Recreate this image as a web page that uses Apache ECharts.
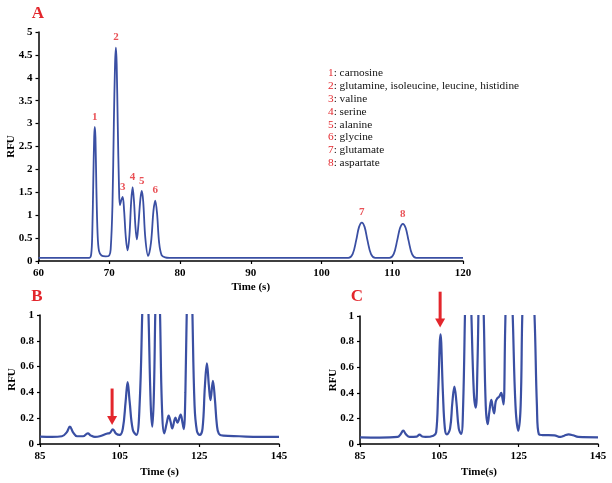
<!DOCTYPE html>
<html>
<head>
<meta charset="utf-8">
<script src="https://cdn.jsdelivr.net/npm/echarts@6/dist/echarts.min.js"></script>
<style>
html,body{margin:0;padding:0;background:#fff;}
#chart{width:612px;height:483px;}
</style>
</head>
<body>
<div id="chart"></div>
<script>
// ---------- DATA ----------
// Panel A: electropherogram, time (s) vs RFU
var timeA = [60,67.2,67.45,67.6,67.75,67.87,67.95,68.05,68.18,68.35,68.55,68.9,69.5,70.0,70.2,70.45,70.65,70.82,70.94,71.05,71.2,71.38,71.5,71.7,71.9,72.1,72.35,72.6,72.85,73.1,73.3,73.5,73.7,73.9,74.1,74.4,74.6,74.8,75.1,75.5,75.9,76.25,76.5,76.75,77.05,77.4,77.9,78.5,103.8,104.4,104.9,105.3,105.7,106.1,106.5,107.0,107.6,109.6,110.2,110.7,111.1,111.5,111.9,112.3,112.8,113.4,120];
var rfuA  = [0.07,0.07,0.15,0.6,1.8,2.7,2.93,2.7,1.6,0.6,0.22,0.12,0.1,0.12,0.25,1.2,3.0,4.3,4.66,4.3,3.0,1.6,1.22,1.33,1.40,1.1,0.5,0.23,0.55,1.3,1.61,1.3,0.75,0.47,0.75,1.35,1.53,1.3,0.5,0.11,0.4,1.1,1.32,1.05,0.4,0.13,0.08,0.07,0.07,0.15,0.45,0.74,0.84,0.74,0.45,0.15,0.07,0.07,0.15,0.45,0.72,0.81,0.72,0.45,0.15,0.07,0.07];
var peakTimesA = [67.95,70.94,71.9,73.3,74.6,76.5,105.7,111.5];
var peakNumbersA = ['1','2','3','4','5','6','7','8'];
var legendNames = ['carnosine','glutamine, isoleucine, leucine, histidine','valine','serine','alanine','glycine','glutamate','aspartate'];

// Panel B
var timeB = [85,88,90.5,91.7,92.5,93.3,94.3,95.8,97,97.8,98.8,100,101.7,102.5,103.3,104.1,105,105.8,106.5,107,107.5,108.3,109.2,110,110.7,111.4,112.2,112.8,113.2,113.6,114.0,114.5,115.1,115.6,116.2,116.8,117.3,117.8,118.2,119,119.5,120.3,120.8,121.1,121.5,122,122.6,123.2,123.8,124.4,125.1,125.8,126.4,126.9,127.4,127.8,128.4,128.9,129.4,129.9,131,135,140,145];
var rfuB  = [0.057,0.055,0.06,0.09,0.134,0.09,0.06,0.06,0.083,0.065,0.055,0.06,0.08,0.085,0.114,0.08,0.07,0.12,0.33,0.48,0.33,0.11,0.07,0.3,1.05,1.8,1.05,0.3,0.134,0.4,1.1,1.6,1.05,0.3,0.083,0.16,0.22,0.17,0.12,0.204,0.165,0.227,0.16,0.116,0.4,1.3,1.8,1.1,0.3,0.1,0.07,0.12,0.45,0.625,0.45,0.34,0.49,0.35,0.15,0.08,0.065,0.06,0.055,0.055];

// Panel C
var timeC = [85,90,94.5,95.2,95.9,96.6,97.5,99.3,100,100.7,101.5,103.5,104.2,104.7,105.3,105.9,106.4,106.9,107.7,108.3,108.8,109.3,109.9,110.5,111.0,111.6,112.3,113.0,113.7,114.2,114.6,115.1,115.6,116.2,116.7,117.2,117.6,118.1,118.5,118.8,119.2,119.6,120.1,120.6,120.9,121.2,121.6,122.1,122.8,123.5,124.2,124.9,125.5,126.0,127.0,128.2,129.0,129.6,130.1,131,134,135.5,136.5,137.6,138.7,140,145];
var rfuC  = [0.052,0.05,0.055,0.075,0.104,0.075,0.055,0.058,0.073,0.058,0.055,0.065,0.09,0.4,0.857,0.4,0.12,0.075,0.12,0.33,0.448,0.33,0.12,0.078,0.3,1.2,1.8,1.1,0.4,0.284,0.6,1.4,1.7,1.0,0.3,0.156,0.25,0.344,0.28,0.24,0.33,0.357,0.37,0.40,0.36,0.31,0.9,1.5,1.6,1.0,0.3,0.104,0.3,1.1,1.7,1.5,1.0,0.3,0.075,0.07,0.068,0.055,0.065,0.075,0.068,0.055,0.052];

// Arrows: [time, top RFU, tip RFU]
var arrowB = [103.1, 0.43, 0.147];
var arrowC = [105.2, 1.19, 0.91];

// Axis ticks
var axisA = {xMin:60, xMax:120, xStep:10, yMin:0, yMax:5, yStep:0.5};
var axisBC = {xMin:85, xMax:145, xStep:20, yMin:0, yMax:1, yStep:0.2};

// ---------- CHART ----------
var SERIF = '"Liberation Serif","Times New Roman",serif';
var LINE = '#3a4fa3';
var RED = '#e3262c';

function pairs(t, v) {
  return t.map(function (x, i) { return [x, v[i]]; });
}
var peakPointsA = peakTimesA.map(function (t, i) {
  return {value: [t, rfuA[timeA.indexOf(t)]], label: {formatter: peakNumbersA[i]}};
});

function xAx(grid, a, name, gap) {
  return {
    type: 'value', gridIndex: grid, min: a.xMin, max: a.xMax, interval: a.xStep,
    name: name, nameLocation: 'middle', nameGap: gap,
    nameTextStyle: {fontFamily: SERIF, fontWeight: 'bold', fontSize: 11, color: '#000'},
    axisLine: {lineStyle: {color: '#000', width: 1.5}},
    axisTick: {show: true, inside: false, length: 3, lineStyle: {color: '#000', width: 1.2}},
    axisLabel: {fontFamily: SERIF, fontWeight: 'bold', fontSize: 11, color: '#000', margin: 7},
    splitLine: {show: false}
  };
}
function yAx(grid, a, gap) {
  return {
    type: 'value', gridIndex: grid, min: a.yMin, max: a.yMax, interval: a.yStep,
    name: 'RFU', nameLocation: 'middle', nameGap: gap, nameRotate: 90, nameMoveOverlap: false,
    nameTextStyle: {fontFamily: SERIF, fontWeight: 'bold', fontSize: 11, color: '#000'},
    axisLine: {show: true, lineStyle: {color: '#000', width: 1.5}},
    axisTick: {show: true, inside: false, length: 3, lineStyle: {color: '#000', width: 1.2}},
    axisLabel: {fontFamily: SERIF, fontWeight: 'bold', fontSize: 11, color: '#000', margin: 6},
    splitLine: {show: false}
  };
}

var chart = echarts.init(document.getElementById('chart'), null, {renderer: 'canvas'});
chart.setOption({
  animation: false,
  backgroundColor: '#fff',
  grid: [
    {left: 38.5, right: 149, top: 32, bottom: 222, containLabel: false, outerBoundsMode: 'none'},
    {left: 40, right: 333, top: 315, bottom: 39, containLabel: false, outerBoundsMode: 'none'},
    {left: 360, right: 14, top: 316, bottom: 39, containLabel: false, outerBoundsMode: 'none'}
  ],
  xAxis: [xAx(0, axisA, 'Time (s)', 21), xAx(1, axisBC, 'Time (s)', 23), xAx(2, axisBC, 'Time(s)', 23)],
  yAxis: [yAx(0, axisA, 22), yAx(1, axisBC, 22), yAx(2, axisBC, 21.5)],
  series: [
    {type: 'line', xAxisIndex: 0, yAxisIndex: 0, data: pairs(timeA, rfuA),
     smooth: 0.35, symbol: 'none', lineStyle: {color: LINE, width: 1.8}},
    {type: 'scatter', xAxisIndex: 0, yAxisIndex: 0, data: peakPointsA, symbolSize: 1, silent: true,
     itemStyle: {color: 'rgba(0,0,0,0)'},
     label: {show: true, position: 'top', distance: 4, color: RED, fontFamily: SERIF, fontWeight: 'bold', fontSize: 11}},
    {type: 'line', xAxisIndex: 1, yAxisIndex: 1, data: pairs(timeB, rfuB), clip: true,
     smooth: 0.4, symbol: 'none', lineStyle: {color: LINE, width: 2.2}},
    {type: 'line', xAxisIndex: 2, yAxisIndex: 2, data: pairs(timeC, rfuC), clip: true,
     smooth: 0.4, symbol: 'none', lineStyle: {color: LINE, width: 2.2}}
  ]
});

// graphic overlays: panel letters, legend, arrows
var g = [];
var letters = [['A', 38, 14], ['B', 37, 297], ['C', 357, 297]];
letters.forEach(function (l) {
  g.push({type: 'text', x: l[1], y: l[2], style: {text: l[0], fill: RED, font: 'bold 17px ' + SERIF, textAlign: 'center', textVerticalAlign: 'middle'}});
});
legendNames.forEach(function (n, i) {
  g.push({type: 'text', x: 328, y: 73 + i * 12.9,
    style: {text: '{n|' + (i + 1) + '}{t|: ' + n + '}', textVerticalAlign: 'middle',
      rich: {n: {fill: RED, font: '11.3px ' + SERIF}, t: {fill: '#111', font: '11.3px ' + SERIF}}}});
});
function arrow(gridIndex, a) {
  var top = chart.convertToPixel({gridIndex: gridIndex}, [a[0], a[1]]);
  var tip = chart.convertToPixel({gridIndex: gridIndex}, [a[0], a[2]]);
  var head = 9;
  g.push({type: 'line', shape: {x1: top[0], y1: top[1], x2: tip[0], y2: tip[1] - head + 1}, style: {stroke: RED, lineWidth: 3}});
  g.push({type: 'polygon', shape: {points: [[tip[0] - 5, tip[1] - head], [tip[0] + 5, tip[1] - head], [tip[0], tip[1]]]}, style: {fill: RED}});
}
arrow(1, arrowB);
arrow(2, arrowC);
chart.setOption({graphic: g});
</script>
</body>
</html>
